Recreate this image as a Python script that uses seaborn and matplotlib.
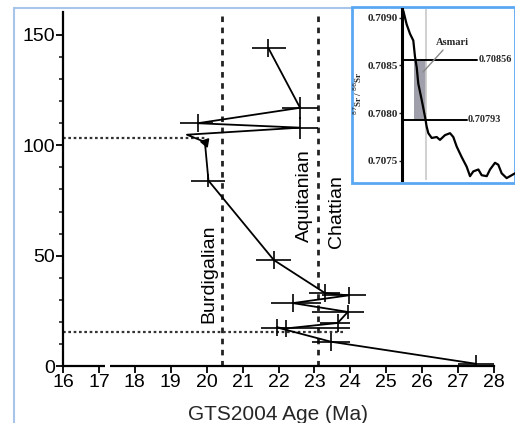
import numpy as np
import pandas as pd
import matplotlib
matplotlib.use("Agg")
import matplotlib.pyplot as plt
from matplotlib.lines import Line2D
from matplotlib.patches import Rectangle
import seaborn as sns

# ---------------- data ----------------
ages = [21.72, 22.60, 19.75, 22.60, 19.45, 19.95, 20.05, 21.87, 23.30, 23.95,
        22.40, 23.93, 23.65, 22.20, 21.95, 23.46, 27.50]
vals = [144, 117, 110, 108, 104.8, 101.5, 84, 48, 33, 32,
        28.5, 24.5, 19.5, 17, 17.5, 11, 1]
xerr_lo = [0.47, 0.50, 0.48, 0.50, 0, 0, 0.50, 0.50, 0.46, 0.75,
           0.62, 1.00, 0.50, 0.70, 0, 0.52, 0.50]
xerr_hi = [0.48, 0.50, 0.44, 0.50, 0, 0, 0.45, 0.47, 0.40, 0.48,
           0.77, 0.45, 0.35, 1.80, 0, 0.54, 0.50]
yerr = [4, 5, 4, 5, 0, 0, 3, 4, 4, 4, 4, 3, 4, 4, 4, 4, 4]
arrow_idx = 5

stage_bounds = [20.43, 23.10]
stage_labels = ["Burdigalian", "Aquitanian", "Chattian"]
stage_label_x = [20.05, 22.73, 23.62]
stage_label_y = [42, 77, 70]

ref_levels = [103.3, 15.4]
ref_level_end = [19.97, 23.80]

# inset Sr curve
sr_x = [0.12, 0.41, 0.71, 1.0, 1.15, 1.3, 1.44, 1.74, 2.04, 2.18, 2.33, 2.63, 3.07,
        3.36, 3.81, 4.25, 4.54, 4.84, 5.28, 5.72, 6.02, 6.31, 6.76, 7.05, 7.5, 7.79,
        8.23, 8.52, 8.82, 9.26, 9.56, 10.0]
sr_y = [0.70907, 0.70893, 0.70883, 0.70876, 0.70859, 0.70848, 0.70831, 0.70814,
        0.70796, 0.70786, 0.70779, 0.70774, 0.70775, 0.70772, 0.70777, 0.70779,
        0.70775, 0.70765, 0.70754, 0.70744, 0.70734, 0.70739, 0.70741, 0.70735,
        0.70734, 0.70741, 0.70748, 0.70746, 0.70737, 0.70732, 0.70734, 0.70737]
sr_levels = [0.70856, 0.70793]
sr_level_labels = ["0.70856", "0.70793"]
sr_level_end = [6.64, 5.75]
sr_ticks = [0.7075, 0.7080, 0.7085, 0.7090]
asmari_band = [1.06, 2.12]

df = pd.DataFrame({"age": ages, "val": vals})
sr_df = pd.DataFrame({"x": sr_x, "y": sr_y})

# ---------------- figure ----------------
sns.set_theme(style="white")
plt.rcParams["font.family"] = ["Liberation Sans", "DejaVu Sans"]

W, H = 515, 423
fig = plt.figure(figsize=(W / 100, H / 100), dpi=100)
fig.patch.set_facecolor("white")

ax = fig.add_axes([63 / W, 1 - 366 / H, (494 - 63) / W, (366 - 12) / H])
ax.set_xlim(16, 28)
ax.set_ylim(0, 160.4)
ax.set_facecolor("white")

# stage boundaries
for b in stage_bounds:
    ax.axvline(b, color="#222222", lw=2.0, ls=(0, (2.0, 2.0)), zorder=1)
for lvl, end in zip(ref_levels, ref_level_end):
    ax.plot([16, end], [lvl, lvl], color="#333333", lw=1.6, ls=(0, (1.2, 1.2)), zorder=1)

for lab, x, y in zip(stage_labels, stage_label_x, stage_label_y):
    ax.text(x, y, lab, rotation=90, ha="center", va="center", fontsize=14, color="black")

# main curve
sns.lineplot(data=df, x="age", y="val", sort=False, estimator=None,
             color="black", lw=1.3, ax=ax, zorder=3)
mask = [i for i in range(len(ages)) if i != arrow_idx]
ax.errorbar([ages[i] for i in mask], [vals[i] for i in mask],
            xerr=[[xerr_lo[i] for i in mask], [xerr_hi[i] for i in mask]],
            yerr=[yerr[i] for i in mask], fmt="none", ecolor="black",
            elinewidth=1.2, capsize=0, zorder=3)
ax.plot([ages[arrow_idx]], [vals[arrow_idx]], marker=(3, 0, 200), ms=7,
        color="black", ls="none", zorder=4)

ax.set_xticks(range(16, 29))
ax.set_yticks([0, 50, 100, 150])
ax.set_yticks(range(0, 160, 10), minor=True)
ax.tick_params(axis="both", which="major", direction="out", length=5, width=1.3,
               labelsize=14, colors="black", pad=1, bottom=True, left=True)
ax.tick_params(axis="y", which="minor", direction="out", length=3, width=1.2,
               left=True)
ax.set_xlabel("GTS2004 Age (Ma)", fontsize=15, labelpad=10)
ax.set_ylabel("")
for s in ["top", "right"]:
    ax.spines[s].set_visible(False)
for s in ["left", "bottom"]:
    ax.spines[s].set_linewidth(1.6)
    ax.spines[s].set_color("black")
# small scan gap in the x axis
ax.plot([17.17, 17.31], [0, 0], color="white", lw=3, clip_on=False, zorder=5,
        solid_capstyle="butt")

# outer frame lines (screenshot border)
fig.add_artist(Line2D([14 / W, 14 / W], [0, 1 - 8 / H], color="#a8c4ea", lw=1.5))
fig.add_artist(Line2D([14 / W, 352 / W], [1 - 8 / H, 1 - 8 / H], color="#a8c4ea", lw=1.5))

# inset box
box = Rectangle((352 / W, 1 - 183 / H), (W - 352) / W, (183 - 7) / H,
                transform=fig.transFigure, facecolor="white", edgecolor="#5aa8f2",
                lw=2.0, zorder=5)
fig.add_artist(box)

axi = fig.add_axes([402 / W, 1 - 180 / H, (W - 402) / W, (180 - 9) / H], zorder=6)
axi.set_facecolor("none")
axi.set_xlim(0, 10)
axi.set_ylim(0.70730, 0.70909)
axi.axvspan(asmari_band[0], asmari_band[1], ymin=(sr_levels[1] - 0.70730) / (0.70909 - 0.70730),
            ymax=(sr_levels[0] - 0.70730) / (0.70909 - 0.70730), color="#8e8e9e", alpha=0.85, lw=0)
axi.axvline(asmari_band[1], color="#c8c8c8", lw=1.2)
sns.lineplot(data=sr_df, x="x", y="y", sort=False, estimator=None, color="black",
             lw=1.6, ax=axi)
for lvl, lab, end in zip(sr_levels, sr_level_labels, sr_level_end):
    axi.plot([0, end], [lvl, lvl], color="black", lw=1.4, clip_on=False)
    axi.text(end + 0.1, lvl, lab, ha="left", va="center", fontsize=7.3,
             family="Liberation Serif", fontweight="bold", clip_on=False)
axi.text(4.42, 0.70874, "Asmari", ha="center", va="center", fontsize=7.5,
         family="Liberation Serif", fontweight="bold")
axi.plot([3.63, 1.86], [0.70866, 0.70843], color="#888888", lw=1.0)
axi.set_yticks(sr_ticks)
axi.set_yticklabels([f"{t:.4f}" for t in sr_ticks], family="Liberation Serif",
                    fontweight="bold", fontsize=8)
axi.set_xticks([])
axi.tick_params(axis="y", direction="out", length=2, width=1, pad=1, left=True)
axi.set_xlabel("")
axi.set_ylabel("")
for s in ["top", "right", "bottom"]:
    axi.spines[s].set_visible(False)
axi.spines["left"].set_linewidth(2.2)
axi.spines["left"].set_color("black")
fig.text(358 / W, 1 - 93 / H, r"$^{87}$Sr / $^{86}$Sr", rotation=90, ha="center",
         va="center", fontsize=6.5, fontweight="bold", family="Liberation Serif", zorder=7)

fig.savefig("out.png", dpi=100)
